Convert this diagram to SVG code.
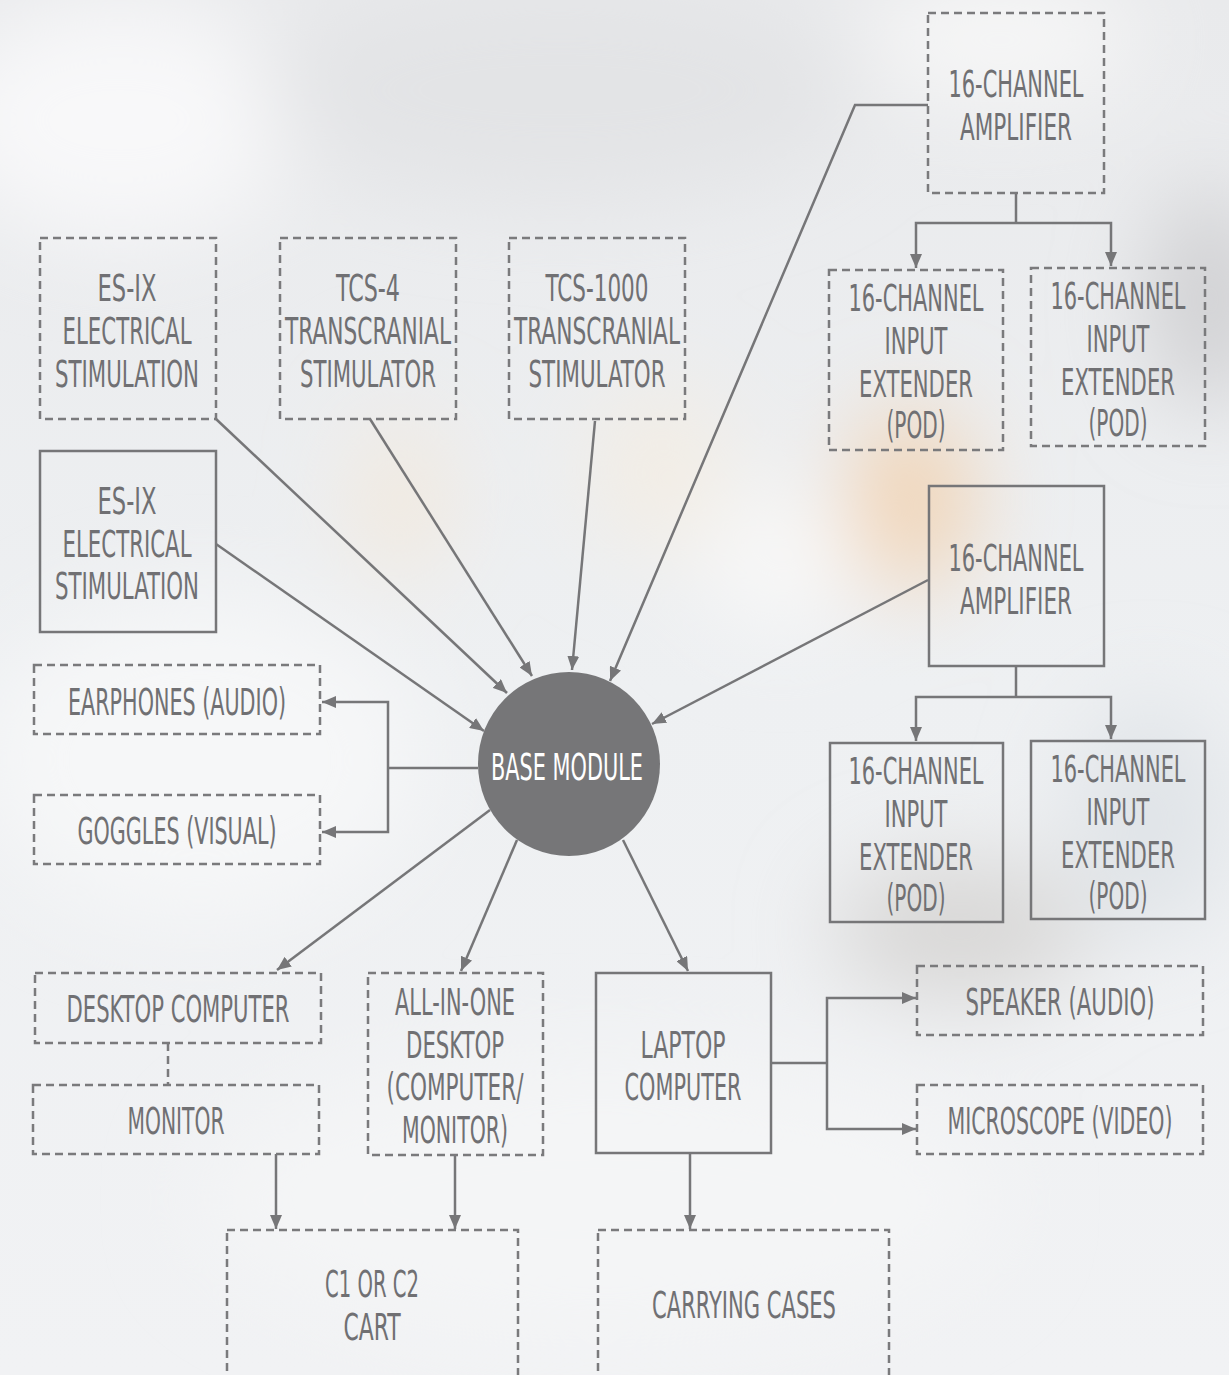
<svg xmlns="http://www.w3.org/2000/svg" width="1229" height="1375" viewBox="0 0 1229 1375">
<defs>
<linearGradient id="bg" x1="0" y1="0" x2="0" y2="1">
<stop offset="0" stop-color="#e9eaec"/>
<stop offset="0.5" stop-color="#eef0f2"/>
<stop offset="1" stop-color="#f1f2f4"/>
</linearGradient>
<filter id="blur" x="-50%" y="-50%" width="200%" height="200%"><feGaussianBlur stdDeviation="45"/></filter>
<marker id="ah" viewBox="0 0 14 12" refX="14" refY="6" markerWidth="14" markerHeight="12" markerUnits="userSpaceOnUse" orient="auto">
<path d="M0,0 L14,6 L0,12 Z" fill="#767678"/>
</marker>
<style>
.dn{fill:none;stroke:#7a7a7c;stroke-width:2.5;stroke-dasharray:8 5}
.sn{fill:none;stroke:#767678;stroke-width:2.5}
.t{font-family:"Liberation Sans Narrow","DejaVu Sans Condensed","Liberation Sans",sans-serif;font-size:37px;fill:#707073;text-anchor:middle}
.w{fill:#ffffff}
.c{fill:none;stroke:#767678;stroke-width:2.5}
.ca{fill:none;stroke:#767678;stroke-width:2.5;marker-end:url(#ah)}
.cd{fill:none;stroke:#7a7a7c;stroke-width:2.5;stroke-dasharray:8 5}
</style>
</defs>
<rect width="1229" height="1375" fill="url(#bg)"/>
<g filter="url(#blur)">
<ellipse cx="120" cy="120" rx="180" ry="120" fill="#f8f8f9"/>
<ellipse cx="560" cy="90" rx="300" ry="110" fill="#e3e4e6"/>
<ellipse cx="1000" cy="40" rx="140" ry="60" fill="#f7f7f7"/>
<ellipse cx="1210" cy="300" rx="60" ry="110" fill="#cfcfd1"/>
<ellipse cx="910" cy="500" rx="60" ry="90" fill="#f1d3b3"/>
<ellipse cx="660" cy="470" rx="70" ry="80" fill="#f3ede4"/>
<ellipse cx="400" cy="500" rx="40" ry="80" fill="#f3e8da"/>
<ellipse cx="780" cy="560" rx="80" ry="70" fill="#f8f8f8"/>
<ellipse cx="960" cy="930" rx="130" ry="70" fill="#d8d7d6"/>
<ellipse cx="200" cy="760" rx="220" ry="160" fill="#f6f7f8"/>
<ellipse cx="1150" cy="820" rx="80" ry="120" fill="#e0e4e8"/>
<ellipse cx="600" cy="1200" rx="400" ry="140" fill="#f4f5f6"/>
</g>

<g id="connectors">
<polyline class="ca" points="216,419 507,693"/>
<polyline class="ca" points="370,419 532,676"/>
<polyline class="ca" points="595,421 572,670"/>
<polyline class="ca" points="928,105 855,105 610,681"/>
<polyline class="ca" points="216,544 484,731"/>
<polyline class="ca" points="928,580 652,724"/>
<polyline class="c" points="1016,193 1016,223"/>
<polyline class="ca" points="1016,223 916,223 916,268"/>
<polyline class="ca" points="1016,223 1111,223 1111,266"/>
<polyline class="c" points="1016,666 1016,697"/>
<polyline class="ca" points="1016,697 916,697 916,741"/>
<polyline class="ca" points="1016,697 1111,697 1111,739"/>
<polyline class="c" points="478,768 388,768"/>
<polyline class="ca" points="388,768 388,702 322,702"/>
<polyline class="ca" points="388,768 388,832 322,832"/>
<polyline class="ca" points="490,810 277,970"/>
<polyline class="ca" points="517,840 461,971"/>
<polyline class="ca" points="623,840 688,971"/>
<polyline class="c" points="771,1063 827,1063"/>
<polyline class="ca" points="827,1063 827,998 916,998"/>
<polyline class="ca" points="827,1063 827,1129 916,1129"/>
<polyline class="ca" points="690,1153 690,1229"/>
<polyline class="ca" points="276,1154 276,1229"/>
<polyline class="ca" points="455,1155 455,1229"/>
<polyline class="cd" points="168,1043 168,1085"/>
</g>

<g id="amp1">
<rect class="dn" x="928" y="13" width="176" height="180"/>
<text class="t" x="1016" y="97" textLength="135" lengthAdjust="spacingAndGlyphs">16-CHANNEL</text>
<text class="t" x="1016" y="140" textLength="112" lengthAdjust="spacingAndGlyphs">AMPLIFIER</text>
</g>
<g id="pod1">
<rect class="dn" x="829" y="270" width="174" height="180"/>
<text class="t" x="916" y="311" textLength="135" lengthAdjust="spacingAndGlyphs">16-CHANNEL</text>
<text class="t" x="916" y="354" textLength="63" lengthAdjust="spacingAndGlyphs">INPUT</text>
<text class="t" x="916" y="397" textLength="114" lengthAdjust="spacingAndGlyphs">EXTENDER</text>
<text class="t" x="916" y="438" textLength="59" lengthAdjust="spacingAndGlyphs">(POD)</text>
</g>
<g id="pod2">
<rect class="dn" x="1031" y="268" width="174" height="178"/>
<text class="t" x="1118" y="309" textLength="135" lengthAdjust="spacingAndGlyphs">16-CHANNEL</text>
<text class="t" x="1118" y="352" textLength="63" lengthAdjust="spacingAndGlyphs">INPUT</text>
<text class="t" x="1118" y="395" textLength="114" lengthAdjust="spacingAndGlyphs">EXTENDER</text>
<text class="t" x="1118" y="436" textLength="59" lengthAdjust="spacingAndGlyphs">(POD)</text>
</g>
<g id="amp2">
<rect class="sn" x="929" y="486" width="175" height="180"/>
<text class="t" x="1016" y="571" textLength="135" lengthAdjust="spacingAndGlyphs">16-CHANNEL</text>
<text class="t" x="1016" y="614" textLength="112" lengthAdjust="spacingAndGlyphs">AMPLIFIER</text>
</g>
<g id="pod3">
<rect class="sn" x="830" y="743" width="173" height="179"/>
<text class="t" x="916" y="784" textLength="135" lengthAdjust="spacingAndGlyphs">16-CHANNEL</text>
<text class="t" x="916" y="827" textLength="63" lengthAdjust="spacingAndGlyphs">INPUT</text>
<text class="t" x="916" y="870" textLength="114" lengthAdjust="spacingAndGlyphs">EXTENDER</text>
<text class="t" x="916" y="911" textLength="59" lengthAdjust="spacingAndGlyphs">(POD)</text>
</g>
<g id="pod4">
<rect class="sn" x="1031" y="741" width="174" height="178"/>
<text class="t" x="1118" y="782" textLength="135" lengthAdjust="spacingAndGlyphs">16-CHANNEL</text>
<text class="t" x="1118" y="825" textLength="63" lengthAdjust="spacingAndGlyphs">INPUT</text>
<text class="t" x="1118" y="868" textLength="114" lengthAdjust="spacingAndGlyphs">EXTENDER</text>
<text class="t" x="1118" y="909" textLength="59" lengthAdjust="spacingAndGlyphs">(POD)</text>
</g>
<g id="esix1">
<rect class="dn" x="40" y="238" width="176" height="181"/>
<text class="t" x="127" y="301" textLength="59" lengthAdjust="spacingAndGlyphs">ES-IX</text>
<text class="t" x="127" y="344" textLength="129" lengthAdjust="spacingAndGlyphs">ELECTRICAL</text>
<text class="t" x="127" y="387" textLength="144" lengthAdjust="spacingAndGlyphs">STIMULATION</text>
</g>
<g id="tcs4">
<rect class="dn" x="280" y="238" width="176" height="181"/>
<text class="t" x="368" y="301" textLength="64" lengthAdjust="spacingAndGlyphs">TCS-4</text>
<text class="t" x="368" y="344" textLength="166" lengthAdjust="spacingAndGlyphs">TRANSCRANIAL</text>
<text class="t" x="368" y="387" textLength="136" lengthAdjust="spacingAndGlyphs">STIMULATOR</text>
</g>
<g id="tcs1000">
<rect class="dn" x="509" y="238" width="176" height="181"/>
<text class="t" x="597" y="301" textLength="103" lengthAdjust="spacingAndGlyphs">TCS-1000</text>
<text class="t" x="597" y="344" textLength="166" lengthAdjust="spacingAndGlyphs">TRANSCRANIAL</text>
<text class="t" x="597" y="387" textLength="137" lengthAdjust="spacingAndGlyphs">STIMULATOR</text>
</g>
<g id="esix2">
<rect class="sn" x="40" y="451" width="176" height="181"/>
<text class="t" x="127" y="514" textLength="59" lengthAdjust="spacingAndGlyphs">ES-IX</text>
<text class="t" x="127" y="557" textLength="129" lengthAdjust="spacingAndGlyphs">ELECTRICAL</text>
<text class="t" x="127" y="599" textLength="144" lengthAdjust="spacingAndGlyphs">STIMULATION</text>
</g>
<g id="earphones">
<rect class="dn" x="34" y="665" width="286" height="69"/>
<text class="t" x="177" y="715" textLength="218" lengthAdjust="spacingAndGlyphs">EARPHONES (AUDIO)</text>
</g>
<g id="goggles">
<rect class="dn" x="34" y="795" width="286" height="69"/>
<text class="t" x="177" y="844" textLength="199" lengthAdjust="spacingAndGlyphs">GOGGLES (VISUAL)</text>
</g>
<g id="base">
<ellipse cx="569" cy="764" rx="91" ry="92" fill="#767678"/>
<text class="t w" x="567" y="780" textLength="152" lengthAdjust="spacingAndGlyphs">BASE MODULE</text>
</g>
<g id="desktop">
<rect class="dn" x="35" y="973" width="286" height="70"/>
<text class="t" x="178" y="1022" textLength="223" lengthAdjust="spacingAndGlyphs">DESKTOP COMPUTER</text>
</g>
<g id="monitor">
<rect class="dn" x="33" y="1085" width="286" height="69"/>
<text class="t" x="176" y="1134" textLength="97" lengthAdjust="spacingAndGlyphs">MONITOR</text>
</g>
<g id="allinone">
<rect class="dn" x="368" y="973" width="175" height="182"/>
<text class="t" x="455" y="1015" textLength="120" lengthAdjust="spacingAndGlyphs">ALL-IN-ONE</text>
<text class="t" x="455" y="1058" textLength="98" lengthAdjust="spacingAndGlyphs">DESKTOP</text>
<text class="t" x="455" y="1100" textLength="137" lengthAdjust="spacingAndGlyphs">(COMPUTER/</text>
<text class="t" x="455" y="1143" textLength="106" lengthAdjust="spacingAndGlyphs">MONITOR)</text>
</g>
<g id="laptop">
<rect class="sn" x="596" y="973" width="175" height="180"/>
<text class="t" x="683" y="1058" textLength="85" lengthAdjust="spacingAndGlyphs">LAPTOP</text>
<text class="t" x="683" y="1100" textLength="117" lengthAdjust="spacingAndGlyphs">COMPUTER</text>
</g>
<g id="speaker">
<rect class="dn" x="917" y="966" width="286" height="69"/>
<text class="t" x="1060" y="1015" textLength="189" lengthAdjust="spacingAndGlyphs">SPEAKER (AUDIO)</text>
</g>
<g id="microscope">
<rect class="dn" x="917" y="1085" width="286" height="69"/>
<text class="t" x="1060" y="1134" textLength="225" lengthAdjust="spacingAndGlyphs">MICROSCOPE (VIDEO)</text>
</g>
<g id="cart">
<rect class="dn" x="227" y="1230" width="291" height="150"/>
<text class="t" x="372" y="1297" textLength="94" lengthAdjust="spacingAndGlyphs">C1 OR C2</text>
<text class="t" x="372" y="1340" textLength="57" lengthAdjust="spacingAndGlyphs">CART</text>
</g>
<g id="cases">
<rect class="dn" x="598" y="1230" width="291" height="150"/>
<text class="t" x="744" y="1318" textLength="184" lengthAdjust="spacingAndGlyphs">CARRYING CASES</text>
</g>
</svg>
